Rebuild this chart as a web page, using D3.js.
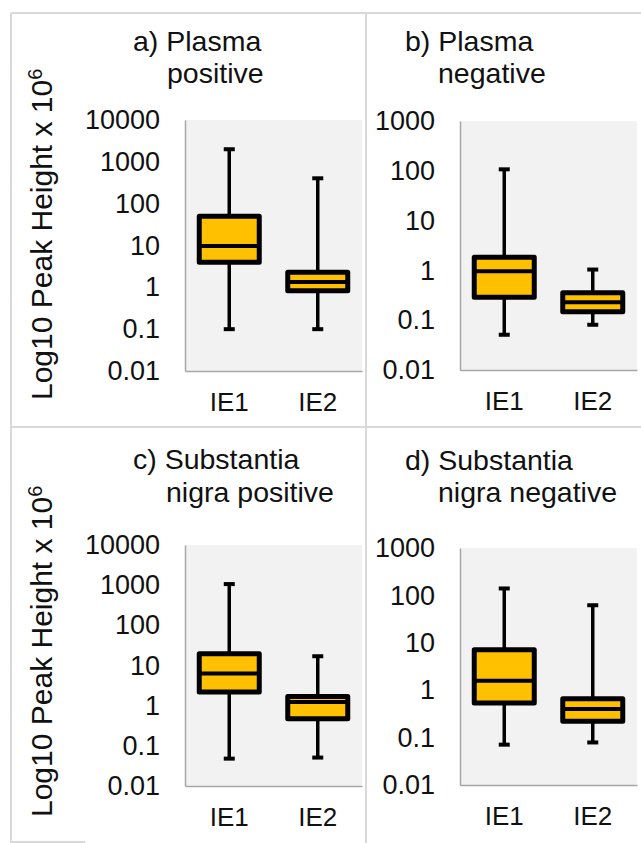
<!DOCTYPE html>
<html>
<head>
<meta charset="utf-8">
<script src="https://cdn.jsdelivr.net/npm/d3@7"></script>
<style>
  body { margin: 0; background: #ffffff; }
  text { font-family: "Liberation Sans", Arial, sans-serif; fill: #111; }
</style>
</head>
<body>
<script>
// categories on the x axis of every panel
var categories = ["IE1", "IE2"];

// panel titles, two lines each
var panelTitles = [
  ["a) Plasma", "positive"],
  ["b) Plasma", "negative"],
  ["c) Substantia", "nigra positive"],
  ["d) Substantia", "nigra negative"]
];

// top of the log axis for each panel
var axisTop = [10000, 1000, 10000, 1000];
var tickLabels = [0.01, 0.1, 1, 10, 100, 1000, 10000];

// box plot values, [IE1, IE2] for each panel
var whiskerMin = [[0.1, 0.1], [0.051, 0.081], [0.048, 0.051], [0.071, 0.079]];
var quartile1 = [[4.0, 0.83], [0.29, 0.148], [2.2, 0.47], [0.54, 0.22]];
var medians = [[9.7, 1.34], [0.96, 0.228], [6.3, 1.24], [1.58, 0.40]];
var quartile3 = [[50, 2.3], [1.84, 0.357], [19.5, 1.69], [7.1, 0.66]];
var whiskerMax = [[2000, 404], [107, 1.04], [1065, 17], [140, 62]];

var yLabel = "Log10 Peak Height x 10";

function main(){
  var w = 641, h = 843;
  var svg = d3.select("body").append("svg")
    .attr("width", w)
    .attr("height", h);

  //the light grey frame round the four panels
  var frame = svg.append("g").attr("stroke", "#d9d9d9").attr("stroke-width", 2);
  frame.append("line").attr("x1", 11).attr("x2", w).attr("y1", 13).attr("y2", 13);
  frame.append("line").attr("x1", 11).attr("x2", 11).attr("y1", 13).attr("y2", h);
  frame.append("line").attr("x1", 366).attr("x2", 366).attr("y1", 13).attr("y2", h);
  frame.append("line").attr("x1", 11).attr("x2", w).attr("y1", 427).attr("y2", 427);
  frame.append("line").attr("x1", 11).attr("x2", 85).attr("y1", 842).attr("y2", 842);

  //plot area of each panel: left, right, top, bottom
  var areas = [
    {x0: 185, x1: 362, y0: 120, y1: 371},
    {x0: 460, x1: 637, y0: 121, y1: 370},
    {x0: 185, x1: 362, y0: 545, y1: 786},
    {x0: 460, x1: 637, y0: 548, y1: 785}
  ];
  var titlePos = [
    [[133, 51], [167, 83]],
    [[405, 51], [438, 83]],
    [[133, 469], [166, 502]],
    [[405, 470], [438, 502]]
  ];

  for (var p = 0; p < 4; p++){
    drawPanel(svg, p, areas[p], titlePos[p]);
  }

  //y axis titles, one per row
  [400, 817].forEach(function(yb){
    var t = svg.append("text")
      .attr("transform", "translate(52," + yb + ") rotate(-90)")
      .attr("font-size", 30)
      .text(yLabel);
    t.append("tspan")
      .attr("dy", "-0.5em")
      .attr("font-size", 20)
      .text("6");
  });
}

function drawPanel(svg, p, a, tp){
  var g = svg.append("g");

  var x = d3.scaleBand().domain(categories).range([a.x0, a.x1]);
  var y = d3.scaleLog().domain([0.01, axisTop[p]]).range([a.y1, a.y0]);

  g.append("rect")
    .attr("x", a.x0).attr("y", a.y0)
    .attr("width", a.x1 - a.x0).attr("height", a.y1 - a.y0)
    .attr("fill", "#f2f2f2");

  var ticks = tickLabels.filter(function(d){ return d <= axisTop[p]; });
  var yAxis = g.append("g")
    .attr("transform", "translate(" + a.x0 + ",0)")
    .call(d3.axisLeft(y).tickValues(ticks).tickSize(0).tickPadding(25)
      .tickFormat(function(d){ return String(d); }));
  yAxis.select(".domain").attr("stroke", "#a6a6a6").attr("stroke-width", 1.5);
  yAxis.selectAll("text").attr("font-size", 27).attr("font-family", null).attr("fill", "#111");

  var xAxis = g.append("g")
    .attr("transform", "translate(0," + a.y1 + ")")
    .call(d3.axisBottom(x).tickSize(0).tickPadding(22));
  xAxis.select(".domain").attr("stroke", "#a6a6a6").attr("stroke-width", 1.5);
  xAxis.selectAll("text").attr("font-size", 26).attr("font-family", null).attr("fill", "#111");

  var boxW = 60, capW = 11;
  var boxes = categories.map(function(c, i){
    return {
      cat: c,
      min: whiskerMin[p][i], q1: quartile1[p][i], med: medians[p][i],
      q3: quartile3[p][i], max: whiskerMax[p][i]
    };
  });

  var b = g.selectAll(".box").data(boxes).enter().append("g")
    .attr("class", "box")
    .attr("transform", function(d){ return "translate(" + (x(d.cat) + x.bandwidth() / 2) + ",0)"; });

  //whisker line and caps
  b.append("line")
    .attr("y1", function(d){ return y(d.max); })
    .attr("y2", function(d){ return y(d.min); })
    .attr("stroke", "#000").attr("stroke-width", 3.5);
  b.append("line")
    .attr("x1", -capW / 2).attr("x2", capW / 2)
    .attr("y1", function(d){ return y(d.max); })
    .attr("y2", function(d){ return y(d.max); })
    .attr("stroke", "#000").attr("stroke-width", 4);
  b.append("line")
    .attr("x1", -capW / 2).attr("x2", capW / 2)
    .attr("y1", function(d){ return y(d.min); })
    .attr("y2", function(d){ return y(d.min); })
    .attr("stroke", "#000").attr("stroke-width", 4);

  //the box itself
  b.append("rect")
    .attr("x", -boxW / 2).attr("width", boxW)
    .attr("y", function(d){ return y(d.q3); })
    .attr("height", function(d){ return y(d.q1) - y(d.q3); })
    .attr("fill", "#ffc000")
    .attr("stroke", "#000").attr("stroke-width", 5)
    .attr("stroke-linejoin", "round");
  b.append("line")
    .attr("x1", -boxW / 2).attr("x2", boxW / 2)
    .attr("y1", function(d){ return y(d.med); })
    .attr("y2", function(d){ return y(d.med); })
    .attr("stroke", "#000").attr("stroke-width", 4);

  //title, two lines
  tp.forEach(function(pos, k){
    g.append("text")
      .attr("x", pos[0]).attr("y", pos[1])
      .attr("font-size", 28.5)
      .text(panelTitles[p][k]);
  });
}

window.onload = function() {
  main();
};
</script>
</body>
</html>
